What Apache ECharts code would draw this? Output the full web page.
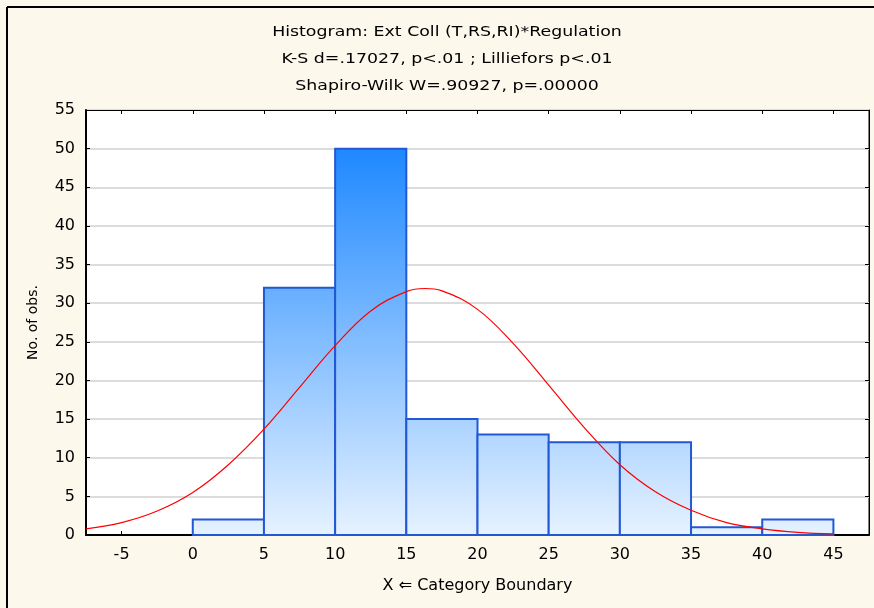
<!DOCTYPE html>
<html>
<head>
<meta charset="utf-8">
<script src="https://cdn.jsdelivr.net/npm/echarts@6/dist/echarts.min.js"></script>
<style>
  html, body { margin: 0; padding: 0; background: #fdf8ec; }
  #chart { width: 874px; height: 608px; }
</style>
</head>
<body>
<div id="chart"></div>
<script>
// histogram bins (lower / upper boundary) and counts
const binStarts = [0, 5, 10, 15, 20, 25, 30, 35, 40]
const binEnds = [5, 10, 15, 20, 25, 30, 35, 40, 45]
const counts = [2, 32, 50, 15, 13, 12, 12, 1, 2]

// expected normal curve
const curveX = [-7.5, -5, -2.5, 0, 2.5, 5, 7.5, 10, 12.5, 15, 16.3, 17.5, 20, 22.5, 25, 27.5, 30, 32.5, 35, 37.5, 40, 42.5, 45]
const curveY = [0.8, 1.6, 3.1, 5.5, 9.1, 13.7, 19.1, 24.5, 29, 31.5, 31.9, 31.6, 29.2, 24.8, 19.4, 13.9, 9.1, 5.6, 3.2, 1.6, 0.8, 0.35, 0.15]

const xTickValues = [-5, 0, 5, 10, 15, 20, 25, 30, 35, 40, 45]

const titleLines = [
  'Histogram: Ext Coll (T,RS,RI)*Regulation',
  'K-S d=.17027, p<.01 ; Lilliefors p<.01',
  'Shapiro-Wilk W=.90927, p=.00000'
]

const font = 'DejaVu Sans'
const chart = echarts.init(document.getElementById('chart'))

const barFill = new echarts.graphic.LinearGradient(0, 148, 0, 535, [
  { offset: 0, color: '#1e88ff' },
  { offset: 1, color: '#e6f2ff' }
], true)

// the original text is drawn wide, so stretch the title lines a bit
const titleTexts = titleLines.map((t, i) => ({
  type: 'text',
  x: 447,
  y: 32 + i * 27,
  scaleX: 1.24,
  style: {
    text: t, fontFamily: font, fontSize: 14, fill: '#000',
    textAlign: 'center', textVerticalAlign: 'middle'
  }
}))

const option = {
  backgroundColor: '#fdf8ec',
  animation: false,
  graphic: [
    { type: 'line', shape: { x1: 7, y1: 7, x2: 874, y2: 7 }, style: { stroke: '#000', lineWidth: 2 } },
    { type: 'line', shape: { x1: 7, y1: 7, x2: 7, y2: 608 }, style: { stroke: '#000', lineWidth: 2 } },
    ...titleTexts
  ],
  grid: {
    left: 86, right: 5, top: 110, bottom: 73,
    show: true, backgroundColor: '#fff', borderColor: '#000', borderWidth: 1
  },
  xAxis: [
    {
      type: 'value', min: -7.5, max: 47.5, position: 'bottom',
      name: 'X \u21d0 Category Boundary', nameLocation: 'middle', nameGap: 43,
      nameTextStyle: { fontFamily: font, fontSize: 16, color: '#000' },
      axisLine: { onZero: false, lineStyle: { color: '#000', width: 2 } },
      axisTick: { inside: true, length: 4, customValues: xTickValues, lineStyle: { color: '#000' } },
      axisLabel: { customValues: xTickValues, margin: 12, fontFamily: font, fontSize: 16, color: '#000' },
      splitLine: { show: false }
    },
    {
      type: 'value', min: -7.5, max: 47.5, position: 'top',
      axisLine: { onZero: false, lineStyle: { color: '#000' } },
      axisTick: { inside: true, length: 4, customValues: xTickValues, lineStyle: { color: '#000' } },
      axisLabel: { show: false },
      splitLine: { show: false }
    }
  ],
  yAxis: [
    {
      type: 'value', min: 0, max: 55, interval: 5, position: 'left',
      name: 'No. of obs.', nameLocation: 'middle', nameGap: 46,
      nameTextStyle: { fontFamily: font, fontSize: 14, color: '#000' },
      axisLine: { show: true, onZero: false, lineStyle: { color: '#000', width: 2 } },
      axisTick: { show: true, inside: true, length: 4, lineStyle: { color: '#000' } },
      axisLabel: { margin: 11, fontFamily: font, fontSize: 16, color: '#000' },
      splitLine: { show: true, lineStyle: { color: '#dcdcdc', width: 2 } }
    },
    {
      type: 'value', min: 0, max: 55, interval: 5, position: 'right',
      axisLine: { show: true, onZero: false, lineStyle: { color: '#000' } },
      axisTick: { show: true, inside: true, length: 4, lineStyle: { color: '#000' } },
      axisLabel: { show: false },
      splitLine: { show: false }
    }
  ],
  series: [
    {
      type: 'custom',
      xAxisIndex: 0,
      yAxisIndex: 0,
      data: counts.map((c, i) => [binStarts[i], binEnds[i], c]),
      encode: { x: [0, 1], y: 2 },
      renderItem: (params, api) => {
        const p0 = api.coord([api.value(0), api.value(2)])
        const p1 = api.coord([api.value(1), 0])
        return {
          type: 'rect',
          shape: { x: p0[0], y: p0[1], width: p1[0] - p0[0], height: p1[1] - p0[1] },
          style: { fill: barFill, stroke: '#2258d4', lineWidth: 2 }
        }
      },
      z: 2
    },
    {
      type: 'line',
      xAxisIndex: 0,
      yAxisIndex: 0,
      data: curveX.map((x, i) => [x, curveY[i]]),
      smooth: 0.4,
      showSymbol: false,
      lineStyle: { color: '#ff0000', width: 1.2 },
      z: 3
    }
  ]
}
chart.setOption(option)
</script>
</body>
</html>
